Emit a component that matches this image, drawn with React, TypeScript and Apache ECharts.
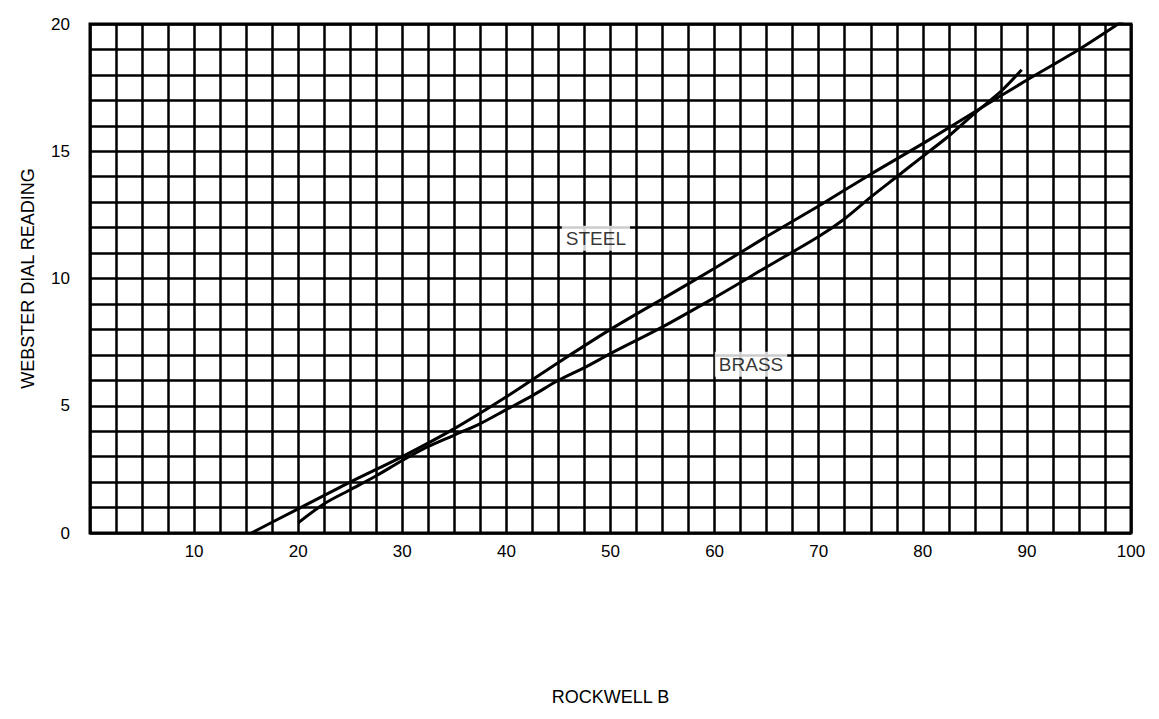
import React, { useEffect, useRef } from "react";
import * as echarts from "echarts";

const steelData: [number, number][] = [
  [15.5, 0], [20, 0.95], [25, 2.0], [30, 3.0], [35, 4.1], [40, 5.35], [45, 6.7],
  [50, 8.0], [55, 9.2], [60, 10.4], [65, 11.65], [70, 12.85], [75, 14.1],
  [80, 15.3], [85, 16.55], [90, 17.8], [95, 19.0], [99.5, 20.2],
];

const brassData: [number, number][] = [
  [20, 0.4], [22.5, 1.15], [25, 1.7], [27.5, 2.25], [30, 2.85], [32.5, 3.4],
  [35, 3.85], [37.5, 4.3], [40, 4.85], [42.5, 5.4], [45, 6.0], [47.5, 6.5],
  [50, 7.05], [55, 8.1], [60, 9.25], [65, 10.45], [70, 11.65], [72.5, 12.35],
  [75, 13.2], [77.5, 14.0], [80, 14.8], [82.5, 15.6], [85, 16.5], [87.5, 17.35],
  [89.5, 18.2],
];

const curveLabels: [number, number, string][] = [
  [48.6, 11.58, "STEEL"],
  [63.5, 6.63, "BRASS"],
];

const xAxisName = "ROCKWELL B";
const yAxisName = "WEBSTER DIAL READING";

const FONT = "'Liberation Sans', Arial, sans-serif";

export default function App() {
  const ref = useRef<HTMLDivElement>(null);
  useEffect(() => {
    if (!ref.current) return;
    const chart = echarts.init(ref.current, undefined, { renderer: "svg" });
    chart.setOption({
      animation: false,
      backgroundColor: "#fff",
      grid: {
        left: 82,
        right: 20,
        top: 16,
        bottom: 174,
        show: true,
        borderColor: "#000",
        borderWidth: 3,
      },
      xAxis: {
        type: "value",
        min: 0,
        max: 100,
        interval: 2.5,
        name: xAxisName,
        nameLocation: "middle",
        nameGap: 155,
        nameTextStyle: { color: "#000", fontSize: 18, fontFamily: FONT },
        axisLine: { show: false },
        axisTick: { show: false },
        axisLabel: {
          color: "#000",
          fontSize: 17,
          fontFamily: FONT,
          margin: 10,
          formatter: (v: number) => (v % 10 === 0 && v !== 0 ? String(v) : ""),
        },
        splitLine: { show: true, lineStyle: { color: "#000", width: 2.5 } },
      },
      yAxis: {
        type: "value",
        min: 0,
        max: 20,
        interval: 1,
        name: yAxisName,
        nameLocation: "middle",
        nameGap: 53,
        nameTextStyle: { color: "#000", fontSize: 18, fontFamily: FONT },
        axisLine: { show: false },
        axisTick: { show: false },
        axisLabel: {
          color: "#000",
          fontSize: 17,
          fontFamily: FONT,
          margin: 20,
          formatter: (v: number) => (v % 5 === 0 ? String(v) : ""),
        },
        splitLine: { show: true, lineStyle: { color: "#000", width: 2.5 } },
      },
      series: [
        {
          name: "STEEL",
          type: "line",
          data: steelData,
          showSymbol: false,
          smooth: 0.3,
          lineStyle: { color: "#000", width: 3 },
          z: 3,
        },
        {
          name: "BRASS",
          type: "line",
          data: brassData,
          showSymbol: false,
          smooth: 0.3,
          lineStyle: { color: "#000", width: 3 },
          z: 3,
        },
        {
          name: "labels",
          type: "scatter",
          data: curveLabels,
          symbolSize: 0,
          z: 5,
          label: {
            show: true,
            position: "inside",
            formatter: (p: any) => p.value[2],
            color: "#000",
            fontSize: 19,
            fontFamily: FONT,
            backgroundColor: "#fff",
            padding: [3, 4],
          },
        },
      ],
    });
    return () => chart.dispose();
  }, []);
  return <div ref={ref} style={{ width: 1143, height: 703 }} />;
}
